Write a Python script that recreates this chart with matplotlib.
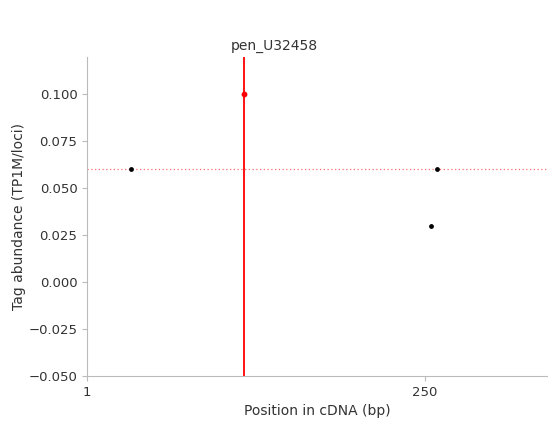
import numpy as np
import matplotlib.pyplot as plt

# Daten
tag_pos = [33, 259, 255]
tag_abund = [0.06, 0.06, 0.03]
peak_pos = 117
peak_abund = 0.10
mean_abund = 0.06
x_ticks = [1, 250]
title = "pen_U32458"

fig = plt.figure(figsize=(5.48, 4.21), dpi=100)
ax = fig.add_axes([0.159, 0.107, 0.841, 0.758])

ax.axvline(peak_pos, color="red", linewidth=1.3, zorder=1)
ax.axhline(mean_abund, color="#ff7070", linestyle=(0, (1, 2)), linewidth=0.9, zorder=1)
ax.scatter(tag_pos, tag_abund, s=6, color="black", zorder=3)
ax.scatter([peak_pos], [peak_abund], s=10, color="red", zorder=3)

ax.set_xlim(1, 341)
ax.set_ylim(-0.05, 0.12)
ax.set_xticks(x_ticks)
ax.set_yticks([-0.05, -0.025, 0.0, 0.025, 0.05, 0.075, 0.1])
ax.set_yticklabels(["\u22120.050", "\u22120.025", "0.000", "0.025", "0.050", "0.075", "0.100"])

for side in ["top", "right"]:
    ax.spines[side].set_visible(False)
for side in ["left", "bottom"]:
    ax.spines[side].set_color("#bbbbbb")
ax.tick_params(colors="#bbbbbb", labelcolor="#333333", labelsize=9.5, length=3.5)

ax.set_xlabel("Position in cDNA (bp)", fontsize=10, color="#333333", labelpad=4)
ax.set_ylabel("Tag abundance (TP1M/loci)", fontsize=10, color="#333333", labelpad=2)
fig.suptitle(title, x=0.5, y=0.908, fontsize=10, color="#333333")

fig.savefig("out.png", dpi=100)
